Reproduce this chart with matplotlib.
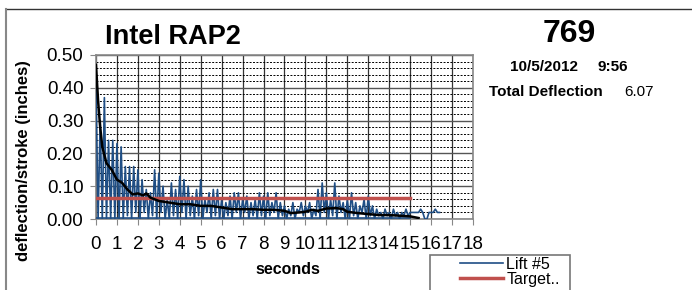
import numpy as np
import matplotlib
matplotlib.use('Agg')
import matplotlib.pyplot as plt
from matplotlib.lines import Line2D
from matplotlib.patches import Rectangle
from matplotlib.ticker import MultipleLocator

plt.rcParams['font.family'] = ['Liberation Sans', 'DejaVu Sans']

# lift #5 deflection per stroke, one value every 0.1 s
lift_dt = 0.1
lift_values = [
    0.41, 0.00, 0.30, 0.00, 0.37, 0.00, 0.24, 0.00, 0.24, 0.00,
    0.23, 0.00, 0.22, 0.00, 0.16, 0.01, 0.16, 0.00, 0.16, 0.02,
    0.15, 0.00, 0.12, 0.02, 0.09, 0.00, 0.08, 0.01, 0.15, 0.00,
    0.14, 0.02, 0.10, 0.00, 0.06, 0.00, 0.11, 0.01, 0.09, 0.00,
    0.13, 0.02, 0.12, 0.00, 0.10, 0.01, 0.07, 0.00, 0.09, 0.01,
    0.12, 0.00, 0.06, 0.02, 0.08, 0.00, 0.09, 0.01, 0.09, 0.00,
    0.06, 0.00, 0.05, 0.01, 0.07, 0.00, 0.08, 0.02, 0.08, 0.00,
    0.06, 0.02, 0.07, 0.00, 0.05, 0.01, 0.06, 0.00, 0.08, 0.01,
    0.07, 0.00, 0.08, 0.01, 0.05, 0.02, 0.08, 0.00, 0.05, 0.01,
    0.04, 0.00, 0.03, 0.01, 0.05, 0.00, 0.03, 0.02, 0.05, 0.01,
    0.04, 0.02, 0.05, 0.00, 0.03, 0.01, 0.09, 0.00, 0.11, 0.02,
    0.08, 0.00, 0.06, 0.01, 0.11, 0.00, 0.07, 0.02, 0.05, 0.00,
    0.06, 0.00, 0.08, 0.01, 0.05, 0.00, 0.04, 0.02, 0.06, 0.00,
    0.07, 0.01, 0.04, 0.00, 0.03, 0.01, 0.02, 0.00, 0.03, 0.01,
    0.02, 0.00, 0.03, 0.01, 0.02, 0.00, 0.02, 0.01, 0.03, 0.01,
    0.02, 0.02, 0.02, 0.02, 0.02, 0.03, 0.02, 0.00, 0.00, 0.02,
    0.02, 0.02, 0.03, 0.02, 0.02,
]
lift_time = np.arange(len(lift_values)) * lift_dt

# low blue trace along the bottom
base_time = [0, 15]
base_values = [0.003, 0.003]

# running average (black)
avg_time = [0, 0.1, 0.2, 0.3, 0.5, 0.75, 1.0, 1.25, 1.5, 1.75, 2.0, 2.25, 2.4,
            2.6, 3.0, 3.5, 4.0, 4.5, 5.0, 5.5, 6.0, 6.5, 7.0, 7.5, 8.0, 8.5,
            9.0, 9.3, 9.7, 10.0, 10.3, 10.6, 11.0, 11.5, 11.8, 12.0, 12.5,
            13.0, 13.5, 14.0, 14.5, 15.0, 15.4]
avg_values = [0.47, 0.36, 0.28, 0.22, 0.17, 0.15, 0.12, 0.11, 0.09, 0.075,
              0.078, 0.072, 0.078, 0.065, 0.055, 0.05, 0.045, 0.045, 0.04,
              0.04, 0.035, 0.03, 0.03, 0.03, 0.028, 0.028, 0.025, 0.018,
              0.02, 0.022, 0.028, 0.025, 0.032, 0.033, 0.03, 0.022, 0.018,
              0.015, 0.012, 0.012, 0.01, 0.008, 0.003]

target_time = [0, 15]
target_values = [0.065, 0.065]

fig = plt.figure(figsize=(6.92, 2.90), dpi=100)
ax = fig.add_axes([96 / 692, 1 - 219 / 290, 377 / 692, 164 / 290])

ax.plot(lift_time, lift_values, color='#1f4e85', lw=1.2, label='Lift #5', zorder=3)
ax.plot(base_time, base_values, color='#1f4e85', lw=1.2, zorder=3)
ax.plot(target_time, target_values, color='#c0504d', lw=2.5, label='Target..', zorder=4)
ax.plot(avg_time, avg_values, color='black', lw=1.8, zorder=5)

ax.set_xlim(0, 18)
ax.set_ylim(0, 0.5)
ax.xaxis.set_major_locator(MultipleLocator(1))
ax.yaxis.set_major_locator(MultipleLocator(0.1))
ax.yaxis.set_minor_locator(MultipleLocator(0.02))
ax.yaxis.set_major_formatter(plt.FuncFormatter(lambda v, p: f'{v:.2f}'))

ax.grid(which='major', axis='x', color='#333333', lw=0.9)
ax.grid(which='major', axis='y', color='#555555', lw=1.0)
ax.grid(which='minor', axis='y', color='black', lw=0.7, ls=(0, (2, 1.5)))
ax.set_axisbelow(True)
for s in ax.spines.values():
    s.set_color('#888888')
    s.set_linewidth(1.2)

ax.tick_params(axis='both', which='major', labelsize=13.5, length=4, color='#888888')
ax.tick_params(axis='y', which='minor', length=0)
ax.tick_params(axis='x', pad=8)
ax.tick_params(axis='y', pad=5)

ax.set_xlabel('seconds', fontsize=11.5, fontweight='bold')
ax.xaxis.set_label_coords((288 - 96) / 377, -(262 - 219) / 164)
ax.set_ylabel('deflection/stroke (inches)', fontsize=12, fontweight='bold')
ax.yaxis.set_label_coords((31 - 96) / 377, (219 - 161) / 164)

fig.text(105 / 692, 1 - 37 / 290, 'Intel RAP2', fontsize=19.5, fontweight='bold', va='center')
fig.text(569 / 692, 1 - 34 / 290, '769', fontsize=23, fontweight='bold', ha='center', va='center')
fig.text(510 / 692, 1 - 67 / 290, '10/5/2012', fontsize=11, fontweight='bold', va='center')
fig.text(597 / 692, 1 - 67 / 290, '9:56', fontsize=11, fontweight='bold', va='center')
fig.text(489 / 692, 1 - 92 / 290, 'Total Deflection', fontsize=11, fontweight='bold', va='center')
fig.text(624 / 692, 1 - 92 / 290, '6.07', fontsize=11, va='center')

# outer chart border
fig.add_artist(Line2D([6 / 692, 1], [1 - 9 / 290, 1 - 9 / 290], color='#333333', lw=1))
fig.add_artist(Line2D([6 / 692, 6 / 692], [0, 1 - 9 / 290], color='#888888', lw=1.5))

# legend, frame drawn separately (it runs off the bottom of the picture)
leg = fig.legend(loc='upper left', bbox_to_anchor=(460 / 692, 1 - 257 / 290),
                 fontsize=11.5, frameon=False, handlelength=2.7,
                 borderpad=0, labelspacing=0.0, handletextpad=0.2,
                 borderaxespad=0)
fig.add_artist(Rectangle((430 / 692, -0.05), 140 / 692, 0.05 + (290 - 255) / 290,
                         transform=fig.transFigure, fill=False,
                         edgecolor='#777777', lw=1.2))

fig.savefig('out.png', dpi=100)
